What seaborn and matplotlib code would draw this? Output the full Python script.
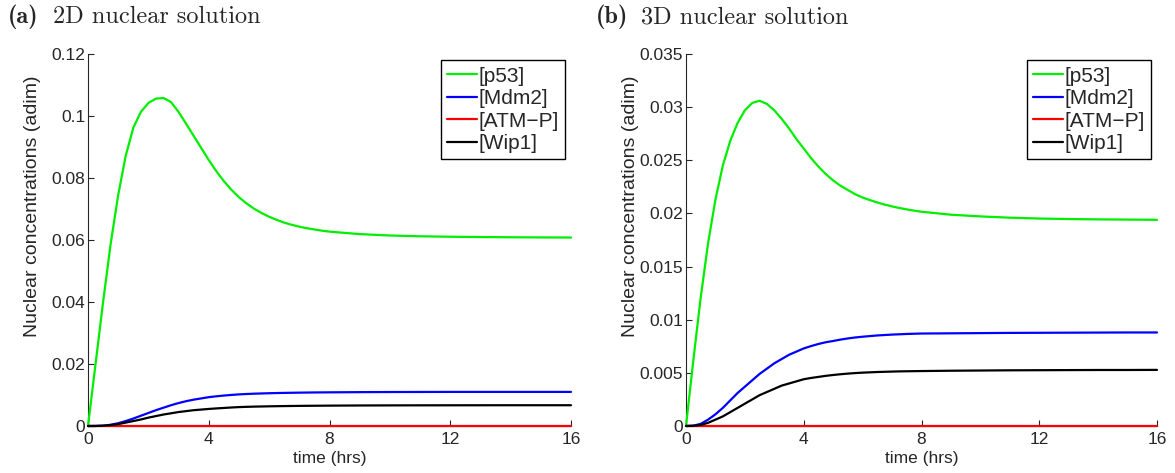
'''
Nuclear concentrations of p53 network species over time, 2D and 3D solutions
'''
import pandas as pd
import matplotlib.pyplot as plt
import matplotlib.ticker as mticker
import seaborn as sns

# time grid (hrs)
time_hrs = [0, 0.25, 0.5, 0.75, 1, 1.25, 1.5, 1.75, 2, 2.25, 2.5, 2.75, 3, 3.25, 3.5, 3.75,
            4, 4.25, 4.5, 4.75, 5, 5.25, 5.5, 5.75, 6, 6.25, 6.5, 6.75, 7, 7.25, 7.5, 7.75,
            8, 9, 10, 11, 12, 13, 14, 15, 16]

species = ['[p53]', '[Mdm2]', '[ATM\u2212P]', '[Wip1]']
colors = ['#00ee00', '#0000ff', '#ff0000', '#000000']

# (a) 2D nuclear solution
p53_2d = [0, 0.020, 0.040, 0.0587, 0.0745, 0.0872, 0.0962, 0.1013, 0.1042, 0.1056, 0.1058, 0.1045,
          0.1013, 0.0975, 0.0936, 0.0897, 0.0858, 0.0822, 0.0790, 0.0762, 0.0738, 0.0718, 0.0701,
          0.0687, 0.0675, 0.0665, 0.0656, 0.0649, 0.0643, 0.0638, 0.0634, 0.0630, 0.0627,
          0.0619, 0.06145, 0.0612, 0.06105, 0.06095, 0.06088, 0.06083, 0.0608]
mdm2_2d = [0, 0.00002, 0.0001, 0.0004, 0.0009, 0.0016, 0.0024, 0.0033, 0.0042, 0.0051, 0.0059, 0.0067,
           0.0074, 0.0080, 0.0085, 0.0089, 0.0093, 0.00958, 0.00982, 0.01002, 0.0102, 0.01032, 0.01042,
           0.0105, 0.01057, 0.01063, 0.01068, 0.01072, 0.01076, 0.01079, 0.01082, 0.01084, 0.01086,
           0.01092, 0.01096, 0.01098, 0.0110, 0.0110, 0.0110, 0.0110, 0.0110]
atmp_2d = [0] * 41
wip1_2d = [0, 0.00001, 0.0001, 0.0003, 0.0006, 0.0011, 0.0016, 0.0021, 0.0027, 0.0032, 0.0037, 0.0041,
           0.0045, 0.0048, 0.0051, 0.0053, 0.0055, 0.00567, 0.00582, 0.00597, 0.0061, 0.00618, 0.00625,
           0.0063, 0.00635, 0.00639, 0.00643, 0.00646, 0.00649, 0.00651, 0.00653, 0.00655, 0.00657,
           0.00662, 0.00665, 0.00667, 0.00668, 0.00669, 0.0067, 0.0067, 0.0067]

# (b) 3D nuclear solution
p53_3d = [0, 0.0062, 0.0121, 0.0172, 0.0213, 0.0245, 0.0268, 0.0285, 0.0297, 0.0304, 0.0306, 0.0303,
          0.0297, 0.0289, 0.0280, 0.0270, 0.0261, 0.0252, 0.0244, 0.0237, 0.0231, 0.0226, 0.0222,
          0.0218, 0.0215, 0.02125, 0.02103, 0.02083, 0.02066, 0.02051, 0.02038, 0.02026, 0.02016,
          0.01988, 0.01972, 0.0196, 0.01952, 0.01947, 0.01944, 0.01942, 0.0194]
mdm2_3d = [0, 0.00003, 0.0002, 0.0006, 0.0011, 0.0017, 0.0024, 0.0031, 0.0037, 0.0043, 0.0049, 0.0054,
           0.0059, 0.0063, 0.0067, 0.0070, 0.0073, 0.00752, 0.00772, 0.00788, 0.0080, 0.00813, 0.00824,
           0.00833, 0.0084, 0.00846, 0.00852, 0.00856, 0.0086, 0.00863, 0.00866, 0.00868, 0.0087,
           0.00872, 0.00874, 0.00876, 0.00877, 0.00878, 0.00879, 0.0088, 0.0088]
atmp_3d = [0] * 41
wip1_3d = [0, 0.00002, 0.0001, 0.0003, 0.0006, 0.0009, 0.0013, 0.0017, 0.0021, 0.0025, 0.0029, 0.0032,
           0.0035, 0.0038, 0.0040, 0.0042, 0.0044, 0.00452, 0.00462, 0.00472, 0.0048, 0.00487, 0.00493,
           0.00498, 0.00502, 0.00505, 0.00508, 0.0051, 0.00512, 0.00514, 0.00515, 0.00516, 0.00517,
           0.0052, 0.00522, 0.00524, 0.00525, 0.00526, 0.00527, 0.00527, 0.00528]

yticks_2d = [0, 0.02, 0.04, 0.06, 0.08, 0.1, 0.12]
yticks_3d = [0, 0.005, 0.01, 0.015, 0.02, 0.025, 0.03, 0.035]
xticks = [0, 4, 8, 12, 16]

sns.set_style('ticks')
plt.rcParams['font.family'] = ['Liberation Sans', 'DejaVu Sans']
plt.rcParams['xtick.direction'] = 'in'
plt.rcParams['ytick.direction'] = 'in'


def to_long(series):
    frames = []
    for name, vals in zip(species, series):
        frames.append(pd.DataFrame({'time': time_hrs, 'value': vals, 'species': name}))
    return pd.concat(frames, ignore_index=True)


fig = plt.figure(figsize=(11.75, 4.73), dpi=100)
ax1 = fig.add_axes([88 / 1175, 1 - 426 / 473, 483 / 1175, 372 / 473])
ax2 = fig.add_axes([686 / 1175, 1 - 426 / 473, 471 / 1175, 372 / 473])

panels = [
    (ax1, [p53_2d, mdm2_2d, atmp_2d, wip1_2d], yticks_2d, '(a)', '2D nuclear solution', 8, 53, 483),
    (ax2, [p53_3d, mdm2_3d, atmp_3d, wip1_3d], yticks_3d, '(b)', '3D nuclear solution', 596, 641, 471),
]

for ax, series, yticks, tag, title, tag_x, title_x, width_px in panels:
    df = to_long(series)
    sns.lineplot(data=df, x='time', y='value', hue='species', hue_order=species,
                 palette=colors, linewidth=1.6, ax=ax, clip_on=False)
    for line in ax.lines:
        line.set_zorder(3)
    ax.set_xlim(0, 16)
    ax.set_ylim(yticks[0], yticks[-1])
    ax.set_xticks(xticks)
    ax.set_yticks(yticks)
    ax.yaxis.set_major_formatter(mticker.FormatStrFormatter('%g'))
    ax.tick_params(labelsize=12.5, length=4, width=0.8)
    ax.tick_params(axis='x', pad=4)
    ax.tick_params(axis='y', pad=2)
    ax.set_xlabel('time (hrs)', fontsize=12.5, labelpad=3)
    ax.set_ylabel('Nuclear concentrations (adim)', fontsize=14)
    ax.yaxis.set_label_coords(-47 / width_px, 0.59)
    sns.despine(ax=ax)
    leg = ax.legend(loc='upper right', fontsize=15, frameon=True, fancybox=False,
                    edgecolor='black', framealpha=1, handlelength=1.45, handletextpad=0.05,
                    borderpad=0.3, labelspacing=0.17, borderaxespad=0.3)
    leg.get_frame().set_linewidth(1.0)
    fig.text(tag_x / 1175, 1 - 17 / 473, tag, fontsize=17.5, family='cmb10', va='center', ha='left')
    fig.text(title_x / 1175, 1 - 17 / 473, title, fontsize=17.5, family='cmr10', va='center', ha='left')

fig.savefig('out.png', dpi=100)
